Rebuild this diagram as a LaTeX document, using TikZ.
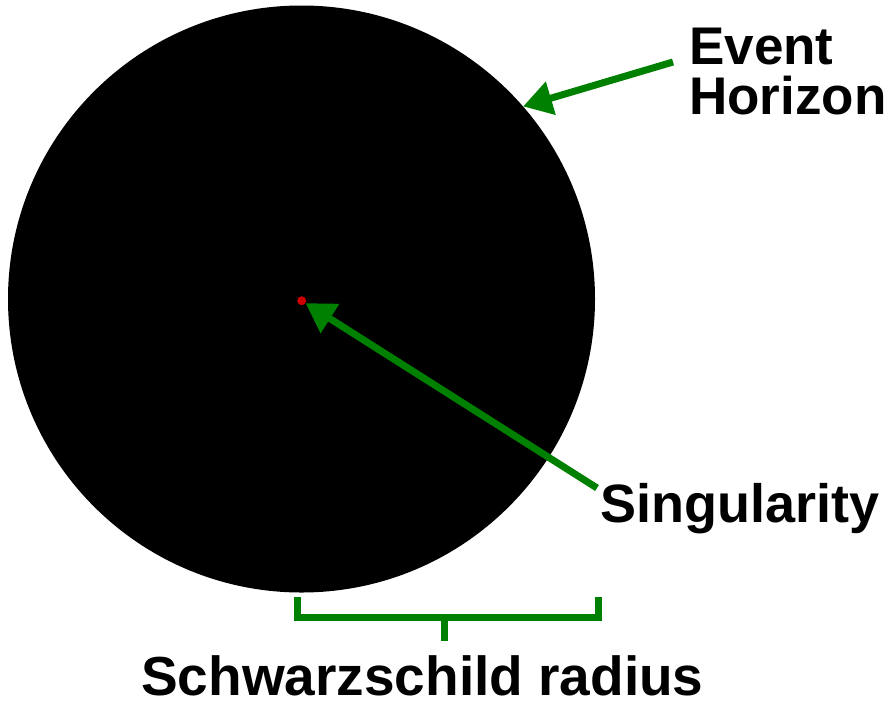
\documentclass[tikz,border=0pt]{standalone}
\usepackage{fontspec}
\setmainfont{Liberation Sans}
\usetikzlibrary{arrows.meta}
\definecolor{lgreen}{RGB}{0,128,0}
\definecolor{dotred}{RGB}{204,0,0}
\tikzset{
  garrow/.style={draw=lgreen, line width=7pt, -{Triangle[length=29pt,width=33pt]}},
  gline/.style={draw=lgreen, line width=7pt, line join=miter},
  lbl/.style={font=\bfseries\fontsize{53pt}{53pt}\selectfont, inner sep=0pt, anchor=base west, align=left},
}
\begin{document}
\begin{tikzpicture}[x=1pt,y=-1pt]
\useasboundingbox (0,0) rectangle (896,705);
\node[circle, fill=black, minimum size=587pt, inner sep=0pt, outer sep=0pt] (bh) at (301.5,299) {};
\node[circle, fill=dotred, minimum size=9pt, inner sep=0pt, outer sep=0pt] (dot) at (301.7,300.7) {};
\node[lbl] (eh) at (689,64) {Event};
\node[lbl] (hz) at (689,114) {Horizon};
\node[lbl, font=\bfseries\fontsize{54pt}{54pt}\selectfont] (sg) at (600,522) {Singularity};
\node[lbl, font=\bfseries\fontsize{55pt}{55pt}\selectfont] (sr) at (141,695) {Schwarzschild radius};
\coordinate (ehtail) at (673,62);
\coordinate (sgtail) at (597,488);
\draw[garrow] (ehtail) -- (bh.41.2);
\draw[garrow] (sgtail) -- (dot);
\coordinate (bl) at (297.5,597);
\coordinate (br) at (598,597);
\coordinate (bm) at (444.5,617.3);
\coordinate (bs) at (444.5,641);
\draw[gline] (bl) |- (bm) -| (br);
\draw[gline] (bm) -- (bs);
\end{tikzpicture}
\end{document}
